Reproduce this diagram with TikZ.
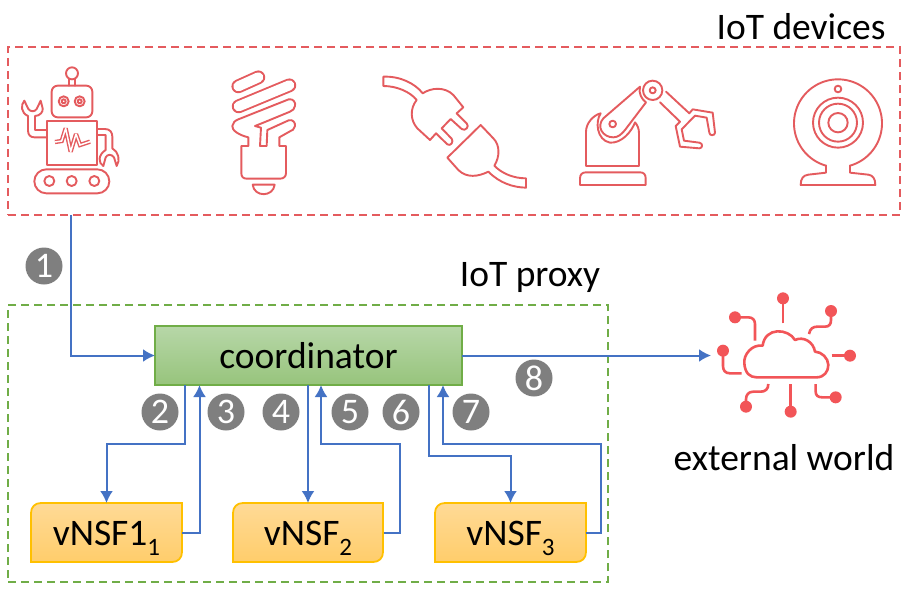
\documentclass[tikz,border=0pt]{standalone}
\usepackage{fontspec}
\setmainfont{Carlito}
\usetikzlibrary{arrows.meta}
\definecolor{redline}{HTML}{E45B5E}
\definecolor{cloudred}{HTML}{F25558}
\definecolor{greenline}{HTML}{70AD47}
\definecolor{blueline}{HTML}{4472C4}
\definecolor{goldline}{HTML}{FFC000}
\definecolor{badge}{HTML}{7F7F7F}
\definecolor{coordtop}{HTML}{B7D7A8}
\definecolor{coordbot}{HTML}{97C47C}
\definecolor{vtop}{HTML}{FFDA96}
\definecolor{vbot}{HTML}{FFCD6B}
\tikzset{
  txt/.style={inner sep=0pt,outer sep=0pt,text=black,font=\fontsize{37.5}{42}\selectfont},
  groupred/.style={draw=redline,line width=1.8pt,dash pattern=on 8pt off 5pt,inner sep=0,outer sep=0,minimum width=892pt,minimum height=168pt},
  groupgreen/.style={draw=greenline,line width=1.8pt,dash pattern=on 8pt off 5pt,inner sep=0,outer sep=0,minimum width=600pt,minimum height=277pt},
  coord/.style={draw=greenline,line width=1.8pt,top color=coordtop,bottom color=coordbot,minimum width=307pt,minimum height=59pt,inner sep=0,outer sep=0,font=\fontsize{37.5}{42}\selectfont},
  vnode/.style={minimum width=151pt,minimum height=59pt,inner sep=0,outer sep=0,text height=25pt,text depth=0pt,font=\fontsize{37.5}{42}\selectfont},
  vshape/.style={draw=goldline,line width=1.8pt,top color=vtop,bottom color=vbot},
  conn/.style={draw=blueline,line width=2pt,-{Latex[length=12pt,width=13pt]}},
  num/.style={circle,fill=badge,text=white,minimum size=37pt,inner sep=0,font=\fontsize{36}{40}\selectfont},
  icon/.style={draw=redline,line width=1.9pt,line join=round,line cap=round},
  cloudline/.style={draw=cloudred,line width=2.6pt,line cap=butt,line join=round},
  dot/.style={fill=cloudred,draw=none}
}
\newcommand{\vshapeat}[2]{%
  \draw[vshape] (#1,562) -- (#1,513) .. controls (#1,507) and ({#1+4},503) .. ({#1+10},503) -- (#2,503) -- (#2,552) .. controls (#2,558) and ({#2-4},562) .. ({#2-10},562) -- cycle;}
\newcommand{\subdigit}[1]{\raisebox{-10pt}[0pt][0pt]{\fontsize{25}{28}\selectfont #1}}
\begin{document}
\begin{tikzpicture}[x=1pt,y=-1pt]
\useasboundingbox (0,0) rectangle (912,590);
\fill[white] (0,0) rectangle (912,590);
% groups
\node[groupred] (dev) at (454,131) {};
\node[groupgreen] (prx) at (308,443.5) {};
\node[txt,anchor=center] (lblDev) at (801,27) {IoT devices};
\node[txt,anchor=center] (lblPrx) at (530,277) {IoT proxy};
\node[txt,anchor=center] (lblExt) at (784,458) {external world};
% robot
\begin{scope}[shift={(0,40)},scale=0.33333]
\draw[icon] (208,117) -- (208,137) (224,117) -- (224,137);
\draw[icon] (216,100) circle (18);
\draw[icon,rounded corners=6pt] (155,137) rectangle (277,232);
\draw[icon] (191,184) circle (15) (191,184) circle (6) (239,184) circle (15) (239,184) circle (6);
\draw[icon] (141,243) rectangle (292,375);
\draw[icon] (141,270) -- (105,270) -- (105,228) .. controls (120,228) and (130,215) .. (128,205) -- (122,182) -- (110,207) .. controls (104,216) and (92,216) .. (85,207) -- (73,182) .. controls (62,195) and (62,218) .. (84,228) -- (84,272) .. controls (84,285) and (92,292) .. (103,292) -- (141,292);
\draw[icon] (292,267) -- (315,267) .. controls (330,267) and (337,277) .. (337,290) -- (337,325) .. controls (355,335) and (362,360) .. (350,378) -- (342,352) .. controls (335,342) and (322,342) .. (317,352) -- (310,378) .. controls (295,370) and (293,345) .. (317,330) -- (317,285) -- (292,285);
\draw[draw=redline,line width=1.4pt,double=white,double distance=1.5pt,line join=miter,miter limit=3] (165,306) -- (185,303) -- (197,265) -- (212,335) -- (228,282) -- (240,315) -- (270,305);
\draw[icon,rounded corners=12pt] (103,388) rectangle (328,460);
\draw[icon] (148,423) circle (15) (215,423) circle (15) (283,423) circle (15);
% bulb
\draw[draw=redline,line width=1.9pt,double=white,double distance=10pt,line cap=round] (715,139) -- (775,112);
\draw[draw=redline,line width=1.9pt,double=white,double distance=10pt,line cap=round] (716,199) -- (868,136);
\draw[icon] (745,292) .. controls (715,285) and (695,270) .. (697,258) .. controls (698,248) and (705,242) .. (715,238) -- (866,178) .. controls (880,175) and (888,188) .. (885,198) .. controls (884,206) and (878,212) .. (870,215) -- (790,248) -- (765,258) -- (783,263) -- (780,318) -- (800,318) -- (802,270) -- (866,241) .. controls (878,237) and (887,248) .. (885,258) .. controls (884,268) and (876,272) .. (868,275) -- (838,292) -- (838,318) -- (858,318) -- (858,400) .. controls (858,410) and (850,416) .. (840,416) -- (740,416) .. controls (730,416) and (724,410) .. (724,400) -- (724,318) -- (745,318) -- cycle;
\draw[icon] (758,434) -- (824,434) .. controls (820,472) and (762,472) .. (758,434) -- cycle;
\end{scope}
% plug
\begin{scope}[shift={(360,50)},scale=0.33333]
\draw[icon] (188,130) .. controls (165,100) and (120,78) .. (70,80) -- (70,108) .. controls (110,108) and (150,125) .. (170,150) .. controls (150,175) and (150,210) .. (172,235) -- (210,270) -- (228,250) -- (262,283) .. controls (272,290) and (282,275) .. (275,266) -- (245,235) -- (272,207) -- (305,237) .. controls (315,245) and (330,230) .. (320,220) -- (290,190) -- (310,172) -- (280,135) .. controls (255,110) and (215,112) .. (188,130) -- cycle;
\draw[icon] (362,225) -- (262,323) -- (295,360) .. controls (320,385) and (355,380) .. (385,365) .. controls (420,400) and (460,412) .. (498,413) -- (498,385) .. controls (460,385) and (425,370) .. (403,347) .. controls (420,320) and (420,285) .. (400,265) -- cycle;
\end{scope}
% arm and webcam
\begin{scope}[shift={(560,50)},scale=0.33333]
\draw[icon] (60,405) -- (60,385) .. controls (60,373) and (67,367) .. (78,367) -- (240,367) .. controls (251,367) and (257,373) .. (257,385) -- (257,405) -- cycle;
\draw[icon] (225,217) .. controls (232,225) and (237,235) .. (237,250) -- (237,348) -- (78,348) -- (78,245) .. controls (78,220) and (100,195) .. (122,190) .. controls (105,215) and (110,270) .. (150,278) .. controls (185,280) and (215,245) .. (225,217);
\draw[icon] (240,110) -- (130,205) .. controls (108,230) and (128,262) .. (160,262) .. controls (175,262) and (185,252) .. (195,240) -- (258,157) .. controls (245,148) and (235,130) .. (240,110) -- cycle;
\draw[icon] (158,222) circle (10) (278,121) circle (29) (278,121) circle (9);
\draw[icon] (318,125) -- (388,190) -- (398,178) -- (458,188) -- (465,248) .. controls (465,258) and (448,258) .. (448,248) -- (440,203) -- (405,197) -- (365,238) -- (372,272) -- (418,278) .. controls (430,280) and (428,295) .. (418,295) -- (360,290) -- (347,228) -- (360,215) -- (300,157);
\draw[icon] plot[domain=105.8:434.2,samples=120,smooth] ({834+132*cos(\x)},{220+132*sin(\x)});
\draw[icon] (798,347) -- (798,368) -- (745,374) .. controls (730,376) and (722,385) .. (722,405) -- (946,405) .. controls (946,385) and (938,376) .. (925,374) -- (870,368) -- (870,347);
\draw[icon] (834,218) circle (75) (834,218) circle (57) (834,218) circle (29) (834,117) circle (10);
\end{scope}
% cloud
\begin{scope}[shift={(700,280)},scale=0.33333]
\draw[cloudline] (170,292) -- (350,292) .. controls (372,292) and (385,275) .. (385,255) .. controls (385,235) and (365,215) .. (345,215) .. controls (340,185) and (310,168) .. (285,180) .. controls (265,145) and (195,140) .. (188,197) .. controls (155,192) and (130,225) .. (133,250) .. controls (135,280) and (150,292) .. (170,292) -- cycle;
\draw[cloudline] (249,130) -- (249,55);
\draw[cloudline] (327,162) .. controls (330,145) and (340,140) .. (352,140) -- (375,140) .. controls (388,140) and (393,132) .. (393,120) -- (393,93);
\draw[cloudline] (395,227) -- (450,227);
\draw[cloudline] (347,312) -- (347,335) .. controls (347,347) and (355,352) .. (367,352) -- (407,352);
\draw[cloudline] (272,312) -- (272,395);
\draw[cloudline] (205,312) .. controls (205,328) and (195,335) .. (182,335) -- (160,335) .. controls (145,335) and (138,345) .. (138,358) -- (138,380);
\draw[cloudline] (125,280) -- (90,280) .. controls (75,280) and (69,270) .. (69,258) -- (69,212);
\draw[cloudline] (105,112) -- (145,112) .. controls (158,112) and (165,120) .. (165,132) -- (165,182);
\fill[dot] (249,55) circle (18) (393,93) circle (18) (450,227) circle (18) (407,352) circle (18) (272,395) circle (18) (138,380) circle (18) (69,212) circle (18) (105,112) circle (18);
\end{scope}
% boxes
\node[coord] (cd) at (308.5,355.5) {coordinator};
\vshapeat{31}{182}
\vshapeat{233}{383}
\vshapeat{435}{586}
\node[vnode] (v1) at (106.5,532.5) {vNSF1\subdigit{1}};
\node[vnode] (v2) at (308,532.5) {vNSF\subdigit{2}};
\node[vnode] (v3) at (510.5,532.5) {vNSF\subdigit{3}};
\coordinate (ext) at (711,355.5);
% connectors
\draw[conn] ([xshift=63pt]dev.south west) |- (cd.west);
\draw[conn] ([xshift=30pt]cd.south west) -- ++(0,59) -| (v1.north);
\draw[conn] (v1.east) -| ([xshift=44.5pt]cd.south west);
\draw[conn] (v2.north |- cd.south) -- (v2.north);
\draw[conn] (v2.east) -- ++(16,0) -- ++(0,-88.5) -| ([xshift=166pt]cd.south west);
\draw[conn] ([xshift=274pt]cd.south west) -- ++(0,71) -| (v3.north);
\draw[conn] (v3.east) -- ++(15,0) -- ++(0,-88.5) -| ([xshift=288pt]cd.south west);
\draw[conn] (cd.east) -- (ext);
% badges
\node[num] (n1) at (44,266) {1};
\node[num] (n2) at (160,412) {2};
\node[num] (n3) at (226,412) {3};
\node[num] (n4) at (281,412) {4};
\node[num] (n5) at (350,412) {5};
\node[num] (n6) at (401,412) {6};
\node[num] (n7) at (471,412) {7};
\node[num] (n8) at (534,378) {8};
\end{tikzpicture}
\end{document}
